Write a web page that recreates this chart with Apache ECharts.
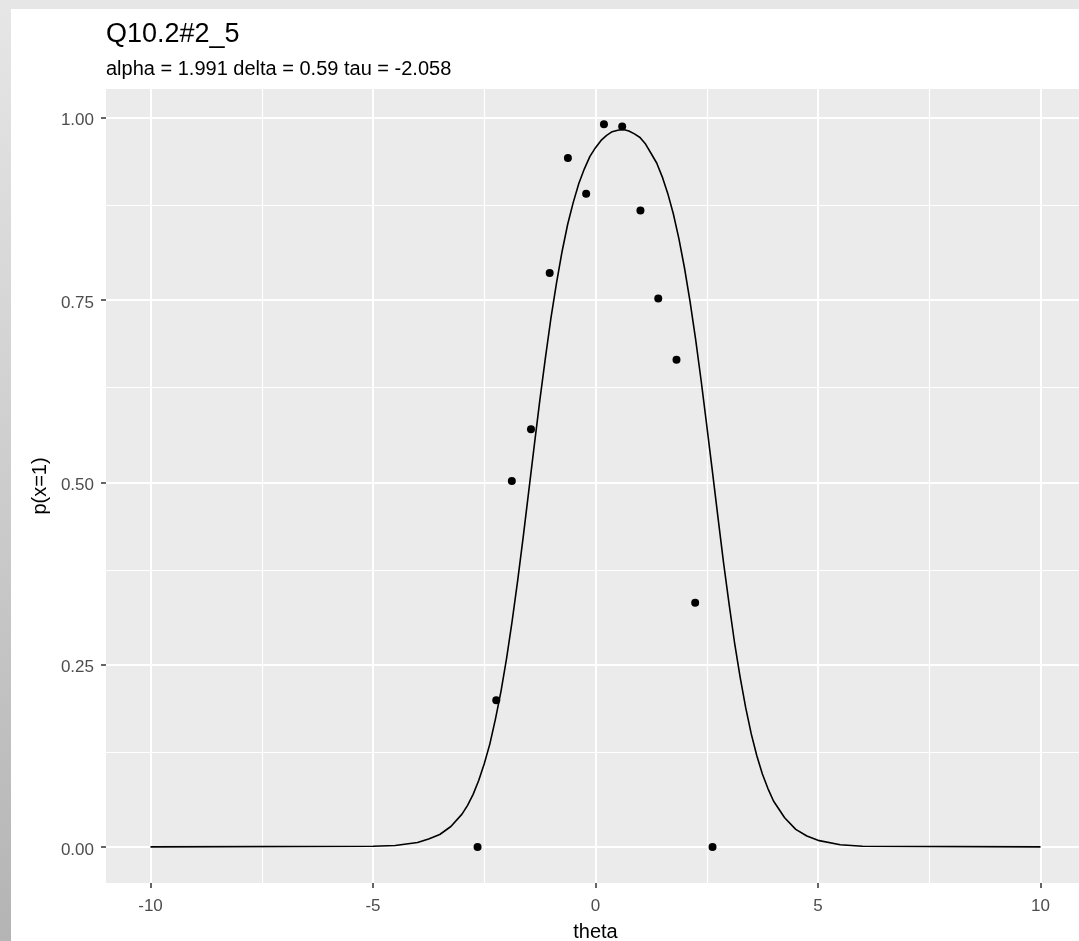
<!DOCTYPE html>
<html>
<head>
<meta charset="utf-8">
<title>Q10.2#2_5</title>
<script src="https://cdn.jsdelivr.net/npm/echarts@6/dist/echarts.min.js"></script>
<style>
  html, body { margin: 0; padding: 0; background: #fff; }
  #chart { width: 1079px; height: 941px; }
</style>
</head>
<body>
<div id="chart"></div>
<script>
// observed proportions (points)
var pointTheta = [-2.65, -2.23, -1.88, -1.45, -1.03, -0.62, -0.21, 0.19, 0.60, 1.01, 1.41, 1.82, 2.24, 2.63];
var pointP = [0, 0.201, 0.502, 0.573, 0.787, 0.945, 0.896, 0.991, 0.988, 0.873, 0.752, 0.668, 0.335, 0];

// model curve
var curveTheta = [-10, -5, -4.5, -4, -3.75, -3.5, -3.25, -3, -2.875, -2.75, -2.625, -2.5, -2.375, -2.25, -2.125,
  -2, -1.875, -1.75, -1.625, -1.5, -1.375, -1.25, -1.125, -1, -0.875, -0.75, -0.625, -0.5, -0.375, -0.25, -0.125,
  0, 0.125, 0.25, 0.375, 0.5, 0.625, 0.75, 0.875, 1, 1.125, 1.25, 1.375, 1.5, 1.625, 1.75, 1.875,
  2, 2.125, 2.25, 2.375, 2.5, 2.625, 2.75, 2.875, 3, 3.125, 3.25, 3.375, 3.5, 3.625, 3.75, 3.875,
  4, 4.25, 4.5, 4.75, 5, 5.5, 6, 10];
var curveP = [0, 0.001, 0.002, 0.006, 0.011, 0.017, 0.028, 0.045, 0.057, 0.072, 0.091, 0.114, 0.141, 0.175, 0.213,
  0.258, 0.309, 0.365, 0.425, 0.488, 0.551, 0.613, 0.671, 0.726, 0.774, 0.817, 0.854, 0.884, 0.910, 0.930, 0.947,
  0.959, 0.969, 0.976, 0.981, 0.983, 0.984, 0.982, 0.978, 0.973, 0.964, 0.951, 0.938, 0.919, 0.896, 0.868, 0.834,
  0.794, 0.748, 0.696, 0.639, 0.578, 0.516, 0.453, 0.391, 0.334, 0.280, 0.233, 0.191, 0.155, 0.125, 0.100, 0.080,
  0.063, 0.040, 0.024, 0.015, 0.009, 0.003, 0.001, 0];

var xTicks = [-10, -5, 0, 5, 10];
var xMinor = [-7.5, -2.5, 2.5, 7.5];
var yTicks = [0, 0.25, 0.5, 0.75, 1];
var yMinor = [0.125, 0.375, 0.625, 0.875];

(function(){
  var myChart = echarts.init(document.getElementById('chart'));

  var gridLines = [];
  xTicks.forEach(function(v){ gridLines.push({ xAxis: v, lineStyle: { width: 2 } }); });
  xMinor.forEach(function(v){ gridLines.push({ xAxis: v, lineStyle: { width: 1.2 } }); });
  yTicks.forEach(function(v){ gridLines.push({ yAxis: v, lineStyle: { width: 2 } }); });
  yMinor.forEach(function(v){ gridLines.push({ yAxis: v, lineStyle: { width: 1.2 } }); });

  var curve = curveTheta.map(function(t, i){ return [t, curveP[i]]; });
  var pts = pointTheta.map(function(t, i){ return [t, pointP[i]]; });

  var font = '"Liberation Sans", Arial, sans-serif';

  var option = {
    animation: false,
    textStyle: { fontFamily: font },
    title: [{
      text: 'Q10.2#2_5',
      left: 106, top: 21, padding: 0,
      textStyle: { fontSize: 27, fontWeight: 'normal', color: '#000', fontFamily: font }
    }, {
      text: 'alpha = 1.991 delta = 0.59 tau = -2.058',
      left: 106, top: 59, padding: 0,
      textStyle: { fontSize: 20, fontWeight: 'normal', color: '#000', fontFamily: font }
    }],
    graphic: [{
      type: 'rect', z: -10,
      shape: { x: 0, y: 0, width: 1079, height: 9 },
      style: { fill: '#e6e6e6' }
    }, {
      type: 'rect', z: -10,
      shape: { x: 0, y: 9, width: 11, height: 932 },
      style: {
        fill: new echarts.graphic.LinearGradient(0, 0, 0, 1, [
          { offset: 0, color: '#e6e6e6' },
          { offset: 1, color: '#b4b4b4' }
        ])
      }
    }],
    grid: {
      left: 106, top: 89, width: 979, height: 794,
      outerBoundsMode: 'none', containLabel: false,
      show: true, backgroundColor: '#ebebeb', borderWidth: 0
    },
    xAxis: {
      type: 'value', min: -11, max: 11,
      name: 'theta', nameLocation: 'middle', nameGap: 39,
      nameTextStyle: { fontSize: 20, color: '#000', fontFamily: font },
      axisLine: { show: false, onZero: false },
      splitLine: { show: false },
      axisTick: { show: true, customValues: xTicks, length: 5, lineStyle: { color: '#333', width: 1.5 } },
      axisLabel: { customValues: xTicks, color: '#4d4d4d', fontSize: 17, margin: 15, fontFamily: font }
    },
    yAxis: {
      type: 'value', min: -0.0495, max: 1.0395,
      name: 'p(x=1)', nameLocation: 'middle', nameGap: 56,
      nameTextStyle: { fontSize: 20, color: '#000', fontFamily: font },
      axisLine: { show: false, onZero: false },
      splitLine: { show: false },
      axisTick: { show: true, customValues: yTicks, length: 5, lineStyle: { color: '#333', width: 1.5 } },
      axisLabel: {
        customValues: yTicks, color: '#4d4d4d', fontSize: 17, margin: 12, fontFamily: font,
        formatter: function(v){ return '{a|' + v.toFixed(2) + '}'; },
        rich: { a: { fontSize: 17, color: '#4d4d4d', fontFamily: font, padding: [6, 0, 0, 0] } }
      }
    },
    series: [{
      type: 'line', z: 1, data: [],
      markLine: {
        z: 1,
        silent: true, animation: false,
        symbol: ['none', 'none'],
        label: { show: false },
        lineStyle: { color: '#ffffff', type: 'solid' },
        emphasis: { disabled: true },
        data: gridLines
      }
    }, {
      type: 'line', z: 3,
      data: curve,
      showSymbol: false, symbol: 'none',
      lineStyle: { color: '#000', width: 1.6 }
    }, {
      type: 'scatter', z: 4,
      data: pts,
      symbolSize: 8,
      itemStyle: { color: '#000', opacity: 1 }
    }]
  };

  myChart.setOption(option);
  window.addEventListener('resize', function(){ myChart.resize(); });
})();
</script>
</body>
</html>
